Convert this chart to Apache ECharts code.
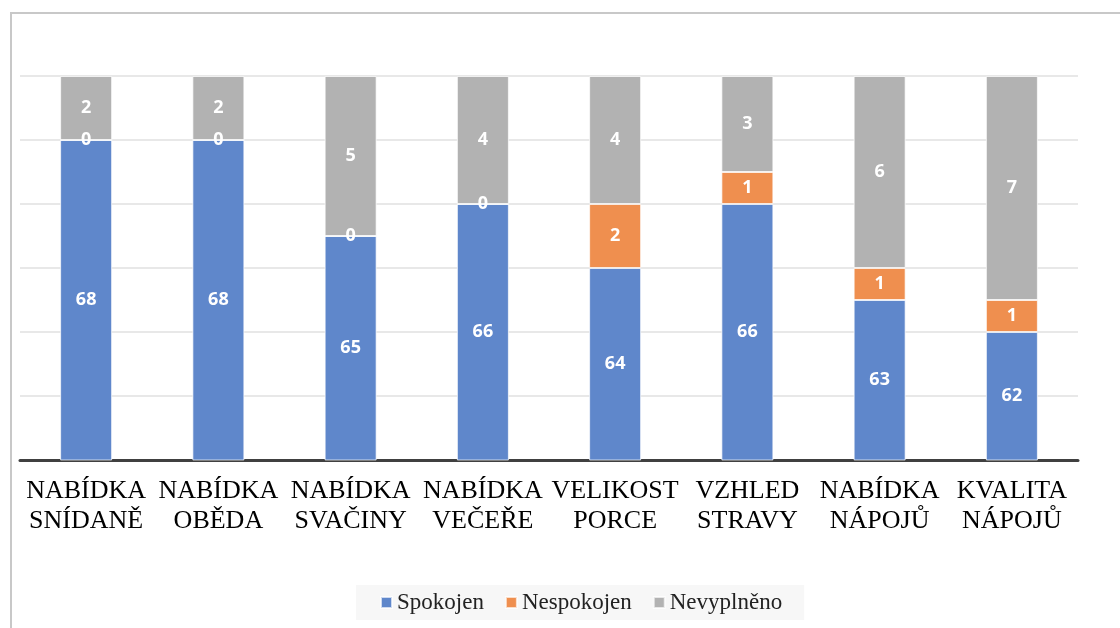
<!DOCTYPE html>
<html>
<head>
<meta charset="utf-8">
<script src="https://cdn.jsdelivr.net/npm/echarts@6/dist/echarts.min.js"></script>
<style>
  html, body { margin: 0; padding: 0; background: #fff; }
  #frame { position: absolute; left: 10px; top: 12px; width: 1200px; height: 700px;
           border-left: 2px solid #c8c8c8; border-top: 2px solid #c8c8c8; }
  #chart { position: absolute; left: 0; top: 0; width: 1120px; height: 628px; }
</style>
</head>
<body>
<div id="frame"></div>
<div id="chart"></div>
<script>
// categories (two-line labels)
const categories = [
  'NABÍDKA\nSNÍDANĚ', 'NABÍDKA\nOBĚDA', 'NABÍDKA\nSVAČINY', 'NABÍDKA\nVEČEŘE',
  'VELIKOST\nPORCE', 'VZHLED\nSTRAVY', 'NABÍDKA\nNÁPOJŮ', 'KVALITA\nNÁPOJŮ'
]
const spokojen = [68, 68, 65, 66, 64, 66, 63, 62]
const nespokojen = [0, 0, 0, 0, 2, 1, 1, 1]
const nevyplneno = [2, 2, 5, 4, 4, 3, 6, 7]

const chart = echarts.init(document.getElementById('chart'))

const label = {
  show: true,
  position: 'inside',
  color: '#fff',
  fontFamily: 'Open Sans',
  fontWeight: 'bold',
  fontSize: 18
}

function bar(name, data, color) {
  return {
    name: name,
    type: 'bar',
    stack: 'total',
    barWidth: 52,
    data: data,
    itemStyle: { color: color, borderColor: 'rgba(255,255,255,0.7)', borderWidth: 1 },
    label: label
  }
}

chart.setOption({
  animation: false,
  grid: { left: 20, right: 42, top: 76, bottom: 168 },
  legend: {
    bottom: 8,
    left: 356,
    icon: 'rect',
    itemWidth: 11,
    itemHeight: 11,
    itemGap: 21,
    itemTextGap: 3,
    backgroundColor: '#f7f7f7',
    padding: [6, 22, 6, 24],
    textStyle: { fontFamily: 'Liberation Serif', fontSize: 23, color: '#222' },
    data: ['Spokojen', 'Nespokojen', 'Nevyplněno']
  },
  xAxis: {
    type: 'category',
    data: categories,
    axisTick: { show: false },
    axisLine: { lineStyle: { color: '#404040', width: 3 } },
    axisLabel: {
      interval: 0,
      margin: 16,
      color: '#000',
      fontFamily: 'Liberation Serif',
      fontSize: 26,
      lineHeight: 30
    }
  },
  yAxis: {
    type: 'value',
    min: 58,
    max: 70,
    interval: 2,
    axisLabel: { show: false },
    axisLine: { show: false },
    axisTick: { show: false },
    splitLine: { lineStyle: { color: '#e0e0e0', width: 1.5 } }
  },
  series: [
    bar('Spokojen', spokojen, '#5f87cb'),
    bar('Nespokojen', nespokojen, '#ef8f4f'),
    bar('Nevyplněno', nevyplneno, '#b2b2b2')
  ]
})
</script>
</body>
</html>
